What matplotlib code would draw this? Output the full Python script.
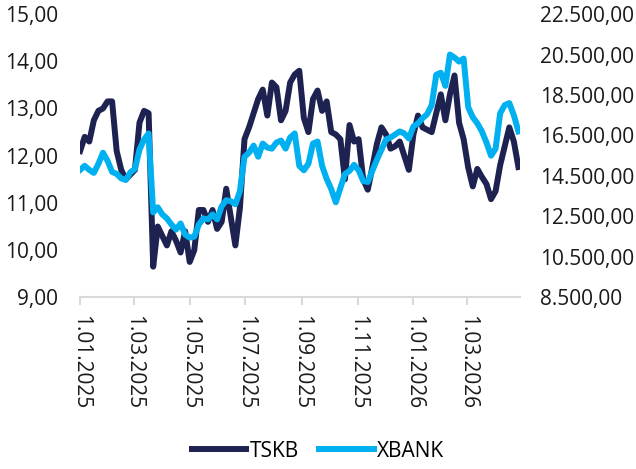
import matplotlib
matplotlib.use("Agg")
import matplotlib.pyplot as plt
import matplotlib.dates as mdates
from matplotlib.ticker import FuncFormatter, FixedLocator
import pandas as pd

plt.rcParams['font.family'] = ['Open Sans', 'DejaVu Sans']

# one reading every 5 days, 1 Jan 2025 .. 26 Apr 2026
dates = pd.date_range('2025-01-01', periods=97, freq='5D')

tskb = [12.10, 12.40, 12.30, 12.75, 12.95, 13.00, 13.15, 13.15, 12.10, 11.70,
        11.50, 11.60, 11.70, 12.70, 12.95, 12.90, 9.65, 10.50, 10.30, 10.10,
        10.40, 10.20, 9.95, 10.40, 9.75, 10.00, 10.85, 10.85, 10.60, 10.85,
        10.45, 10.60, 11.30, 10.70, 10.10, 10.90, 12.35, 12.60, 12.90, 13.20,
        13.40, 12.85, 13.55, 13.45, 12.75, 12.95, 13.55, 13.72, 13.80, 12.80,
        12.50, 13.20, 13.38, 12.95, 13.15, 12.50, 12.45, 12.35, 11.50, 12.65,
        12.30, 12.35, 11.50, 11.28, 11.75, 12.25, 12.60, 12.45, 12.15, 12.20,
        12.30, 12.00, 11.70, 12.45, 12.85, 12.60, 12.55, 12.50, 12.90, 13.30,
        12.75, 13.30, 13.70, 12.70, 12.35, 11.75, 11.35, 11.72, 11.55, 11.40,
        11.08, 11.25, 11.80, 12.20, 12.60, 12.30, 11.76]

xbank = [14800, 15000, 14800, 14650, 15100, 15650, 15250, 14700, 14600, 14380,
         14300, 14680, 14850, 15800, 16300, 16600, 12700, 12950, 12600, 12400,
         12100, 11850, 12150, 11600, 11450, 11500, 12100, 12400, 12350, 12600,
         12350, 13000, 13300, 13250, 13100, 13750, 15450, 15650, 16000, 15450,
         16100, 15900, 15850, 16150, 16250, 15850, 16400, 16600, 15000, 14780,
         15100, 16100, 16200, 15000, 14350, 13850, 13200, 13900, 14600, 14750,
         15050, 14780, 14250, 14200, 14750, 15300, 15800, 16300, 16400, 16550,
         16700, 16600, 16350, 16950, 17100, 17350, 17550, 18000, 19500, 19600,
         18950, 20500, 20350, 20150, 20300, 17900, 17400, 17100, 16700, 16150,
         15500, 15850, 17600, 18000, 18100, 17500, 16700]

tick_dates = pd.to_datetime(['2025-01-01', '2025-03-01', '2025-05-01', '2025-07-01',
                             '2025-09-01', '2025-11-01', '2026-01-01', '2026-03-01'])
tick_labels = ['1.01.2025', '1.03.2025', '1.05.2025', '1.07.2025',
               '1.09.2025', '1.11.2025', '1.01.2026', '1.03.2026']

navy = '#1e2251'
cyan = '#00b0f0'


def tr_fmt(v, pos):
    s = f"{v:,.2f}"
    return s.replace(',', 'X').replace('.', ',').replace('X', '.')


fig = plt.figure(figsize=(6.36, 4.69), dpi=100)
ax = fig.add_axes([0.126, 0.366, 0.692, 0.604])
ax2 = ax.twinx()

l1, = ax.plot(dates, tskb, color=navy, lw=4.3, solid_joinstyle='round', label='TSKB')
l2, = ax2.plot(dates, xbank, color=cyan, lw=4.3, solid_joinstyle='round', label='XBANK')

ax.set_xlim(pd.Timestamp('2025-01-01'), pd.Timestamp('2026-04-28'))
ax.set_ylim(9, 15)
ax2.set_ylim(8500, 22500)
ax.set_yticks([9, 10, 11, 12, 13, 14, 15])
ax2.set_yticks([8500, 10500, 12500, 14500, 16500, 18500, 20500, 22500])
ax.yaxis.set_major_formatter(FuncFormatter(tr_fmt))
ax2.yaxis.set_major_formatter(FuncFormatter(tr_fmt))

ax.xaxis.set_major_locator(FixedLocator(mdates.date2num(tick_dates)))
ax.set_xticklabels(tick_labels, rotation=270, fontsize=15)

for a in (ax, ax2):
    for s in a.spines.values():
        s.set_visible(False)
ax.spines['bottom'].set_visible(True)
ax.spines['bottom'].set_color('#d9d9d9')
ax.spines['bottom'].set_linewidth(1.5)

ax.tick_params(axis='x', length=6, width=1.5, color='#d9d9d9', pad=7, labelcolor='#1a1a1a')
ax.tick_params(axis='y', length=0, pad=16, labelsize=15, labelcolor='#1a1a1a')
ax2.tick_params(axis='y', length=0, pad=14, labelsize=15, labelcolor='#1a1a1a')

fig.legend(handles=[l1, l2], loc='center', bbox_to_anchor=(0.5, 0.038), ncol=2,
           frameon=False, fontsize=15, handlelength=2.6, columnspacing=1.0,
           handletextpad=0.15)

fig.savefig('out.png', dpi=100)
